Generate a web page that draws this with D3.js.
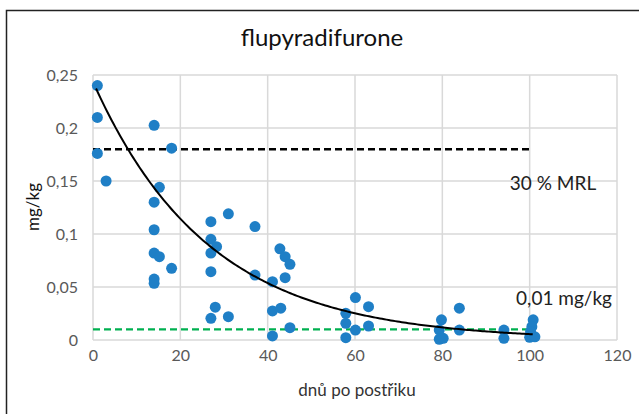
<!DOCTYPE html>
<html>
<head>
<meta charset="utf-8">
<script src="https://cdn.jsdelivr.net/npm/d3@7"></script>
<style>
  body { margin: 0; background: #fff; }
  svg { display: block; font-family: Lato, "Open Sans", sans-serif; }
</style>
</head>
<body>
<div id="chart"></div>
<script>
// days after spraying and measured residue (mg/kg)
var days = [1, 1, 1, 3, 14, 18, 15.2, 14, 14, 14, 15.2, 18, 14, 14,
    27, 27, 27, 28.3, 27, 28, 27, 31, 31, 37.1, 37.1,
    41.1, 42.8, 44, 45.1, 44, 41.1, 43, 41.1, 45.1,
    60.1, 57.9, 57.9, 57.9, 60.1, 63.1, 63.1,
    79.8, 79.3, 79.3, 80.2, 83.9, 83.9, 94.1, 94.1,
    100.8, 100.5, 100.2, 100, 101.2];
var residues = [0.24, 0.21, 0.176, 0.15, 0.2025, 0.181, 0.144, 0.13, 0.104, 0.082, 0.0786, 0.0676, 0.0575, 0.0535,
    0.1116, 0.095, 0.082, 0.088, 0.0645, 0.031, 0.0205, 0.119, 0.022, 0.107, 0.0613,
    0.055, 0.086, 0.0786, 0.0714, 0.0588, 0.0274, 0.030, 0.0038, 0.0116,
    0.040, 0.0252, 0.0157, 0.0022, 0.0094, 0.0314, 0.0132,
    0.019, 0.0094, 0.0007, 0.0016, 0.030, 0.0094, 0.0094, 0.0016,
    0.019, 0.0126, 0.0079, 0.0025, 0.003];
var xTicks = [0, 20, 40, 60, 80, 100, 120];
var yTicks = [0, 0.05, 0.1, 0.15, 0.2, 0.25];
var yTickLabels = ["0", "0,05", "0,1", "0,15", "0,2", "0,25"];

// limits drawn as dashed lines
var mrl30 = 0.18;
var loq = 0.01;
var limitDays = [0, 100];

// exponential trendline y = a * exp(-b * x)
var trendA = 0.2436;
var trendB = 0.0378;
var trendDays = d3.range(0.7, 101.01, 0.5);

var width = 639, height = 414;
var margin = {left: 93, right: 22, top: 75, bottom: 74};

var svg = d3.select("#chart").append("svg")
    .attr("width", width)
    .attr("height", height);

// outer chart frame
svg.append("rect")
    .attr("x", 6.5).attr("y", 10.5)
    .attr("width", 700).attr("height", 500)
    .attr("fill", "#fff")
    .attr("stroke", "#222").attr("stroke-width", 1.5);

var x = d3.scaleLinear().domain([0, 120]).range([margin.left, width - margin.right]);
var y = d3.scaleLinear().domain([0, 0.25]).range([height - margin.bottom, margin.top]);

// gridlines
var grid = svg.append("g");
grid.selectAll("line.h").data(yTicks).enter().append("line")
    .attr("class", "h")
    .attr("x1", x(0)).attr("x2", x(120))
    .attr("y1", function (d) { return y(d); })
    .attr("y2", function (d) { return y(d); })
    .attr("stroke", "#d9d9d9").attr("stroke-width", 1.5);
grid.selectAll("line.v").data(xTicks).enter().append("line")
    .attr("class", "v")
    .attr("y1", y(0)).attr("y2", y(0.25))
    .attr("x1", function (d) { return x(d); })
    .attr("x2", function (d) { return x(d); })
    .attr("stroke", "#d9d9d9").attr("stroke-width", 1.5);

// axes (tick labels only)
var xAxis = d3.axisBottom(x).tickValues(xTicks).tickSize(0).tickPadding(10);
var yAxis = d3.axisLeft(y).tickValues(yTicks).tickSize(0).tickPadding(15)
    .tickFormat(function (d, i) { return yTickLabels[i]; });

var gx = svg.append("g").attr("transform", "translate(0," + y(0) + ")").call(xAxis);
var gy = svg.append("g").attr("transform", "translate(" + x(0) + ",0)").call(yAxis);
[gx, gy].forEach(function (g) {
    g.select(".domain").remove();
    g.selectAll("text")
        .attr("fill", "#595959")
        .style("font-size", "16px")
        .style("font-family", "Lato, 'Open Sans', sans-serif");
});

// limit lines
var line = d3.line()
    .x(function (d) { return x(d[0]); })
    .y(function (d) { return y(d[1]); });

svg.append("path")
    .datum(limitDays.map(function (d) { return [d, mrl30]; }))
    .attr("d", line)
    .attr("fill", "none")
    .attr("stroke", "#000")
    .attr("stroke-width", 2.5)
    .attr("stroke-dasharray", "7,4");

svg.append("path")
    .datum(limitDays.map(function (d) { return [d, loq]; }))
    .attr("d", line)
    .attr("fill", "none")
    .attr("stroke", "#00b050")
    .attr("stroke-width", 2.2)
    .attr("stroke-dasharray", "7,4");

// points
svg.append("g").selectAll("circle")
    .data(days.map(function (d, i) { return [d, residues[i]]; }))
    .enter().append("circle")
    .attr("cx", function (d) { return x(d[0]); })
    .attr("cy", function (d) { return y(d[1]); })
    .attr("r", 5.5)
    .attr("fill", "#1f7fc6");

// trendline
svg.append("path")
    .datum(trendDays.map(function (d) { return [d, trendA * Math.exp(-trendB * d)]; }))
    .attr("d", line)
    .attr("fill", "none")
    .attr("stroke", "#000")
    .attr("stroke-width", 2);

// texts
svg.append("text")
    .attr("x", 322).attr("y", 46)
    .attr("text-anchor", "middle")
    .attr("fill", "#111")
    .style("font-size", "24px")
    .text("flupyradifurone");

svg.append("text")
    .attr("x", 553).attr("y", 190)
    .attr("text-anchor", "middle")
    .attr("fill", "#222")
    .style("font-size", "19px")
    .text("30 % MRL");

svg.append("text")
    .attr("x", 564).attr("y", 305)
    .attr("text-anchor", "middle")
    .attr("fill", "#222")
    .style("font-size", "19px")
    .text("0,01 mg/kg");

svg.append("text")
    .attr("transform", "translate(39,207) rotate(-90)")
    .attr("text-anchor", "middle")
    .attr("fill", "#111")
    .style("font-size", "17px")
    .text("mg/kg");

svg.append("text")
    .attr("x", 357).attr("y", 396)
    .attr("text-anchor", "middle")
    .attr("fill", "#333")
    .style("font-size", "17px")
    .text("dnů po postřiku");
</script>
</body>
</html>
